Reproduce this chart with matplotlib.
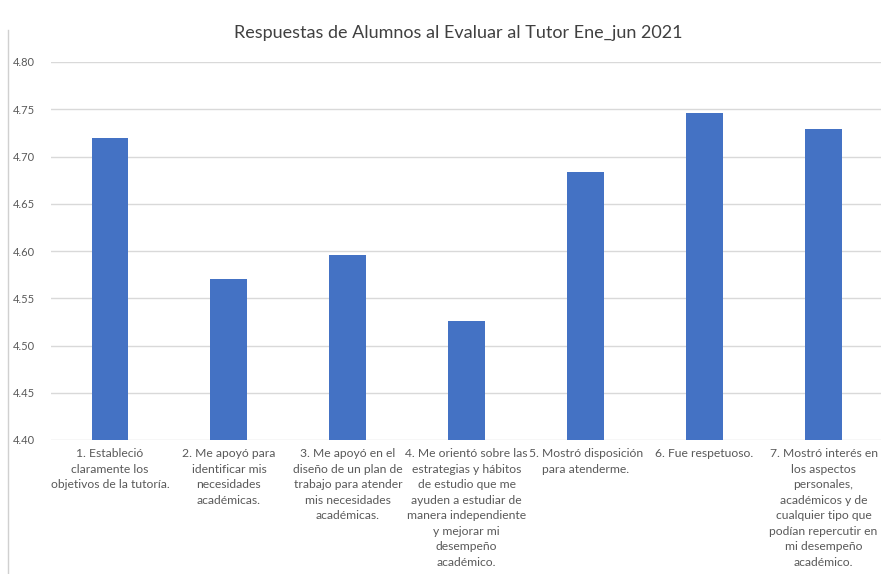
import matplotlib
matplotlib.use("Agg")
import matplotlib.pyplot as plt
from matplotlib.lines import Line2D

plt.rcParams['font.family'] = ['Lato', 'DejaVu Sans']

categorias = [
    "1. Estableció\nclaramente los\nobjetivos de la tutoría.",
    "2. Me apoyó para\nidentificar mis\nnecesidades\nacadémicas.",
    "3. Me apoyó en el\ndiseño de un plan de\ntrabajo para atender\nmis necesidades\nacadémicas.",
    "4. Me orientó sobre las\nestrategias y hábitos\nde estudio que me\nayuden a estudiar de\nmanera independiente\ny mejorar mi\ndesempeño\nacadémico.",
    "5. Mostró disposición\npara atenderme.",
    "6. Fue respetuoso.",
    "7. Mostró interés en\nlos aspectos\npersonales,\nacadémicos y de\ncualquier tipo que\npodían repercutir en\nmi desempeño\nacadémico.",
]
promedios = [4.72, 4.570, 4.596, 4.526, 4.684, 4.746, 4.729]
ticks_y = [4.40, 4.45, 4.50, 4.55, 4.60, 4.65, 4.70, 4.75, 4.80]

W, H = 881, 574
fig = plt.figure(figsize=(W / 100, H / 100), dpi=100)
ax = fig.add_axes([50.5 / W, 1 - 440 / H, (883 - 50.5) / W, (440 - 62) / H])

x = list(range(len(categorias)))
ax.bar(x, promedios, width=0.31, color="#4472C4", zorder=3)
ax.set_xlim(-0.5, len(categorias) - 0.5)
ax.set_ylim(4.40, 4.80)
ax.set_yticks(ticks_y)
ax.set_yticklabels([f"{t:.2f}" for t in ticks_y])
ax.yaxis.grid(True, color="#d9d9d9", linewidth=1, zorder=0)
for s in ax.spines.values():
    s.set_visible(False)
ax.tick_params(axis="y", length=0, pad=11, labelsize=8, labelcolor="#595959")
ax.set_xticks(x)
ax.set_xticklabels(categorias, fontsize=8.7, color="#595959", linespacing=1.5, va="top")
ax.tick_params(axis="x", length=0, pad=6)

fig.text(458 / W, 1 - 33 / H, "Respuestas de Alumnos al Evaluar al Tutor Ene_jun 2021",
         ha="center", va="center", fontsize=13, color="#404040")
fig.add_artist(Line2D([8 / W, 8 / W], [0, 1 - 30 / H], color="#d0d0d0", linewidth=1))

fig.savefig("out.png", dpi=100)
